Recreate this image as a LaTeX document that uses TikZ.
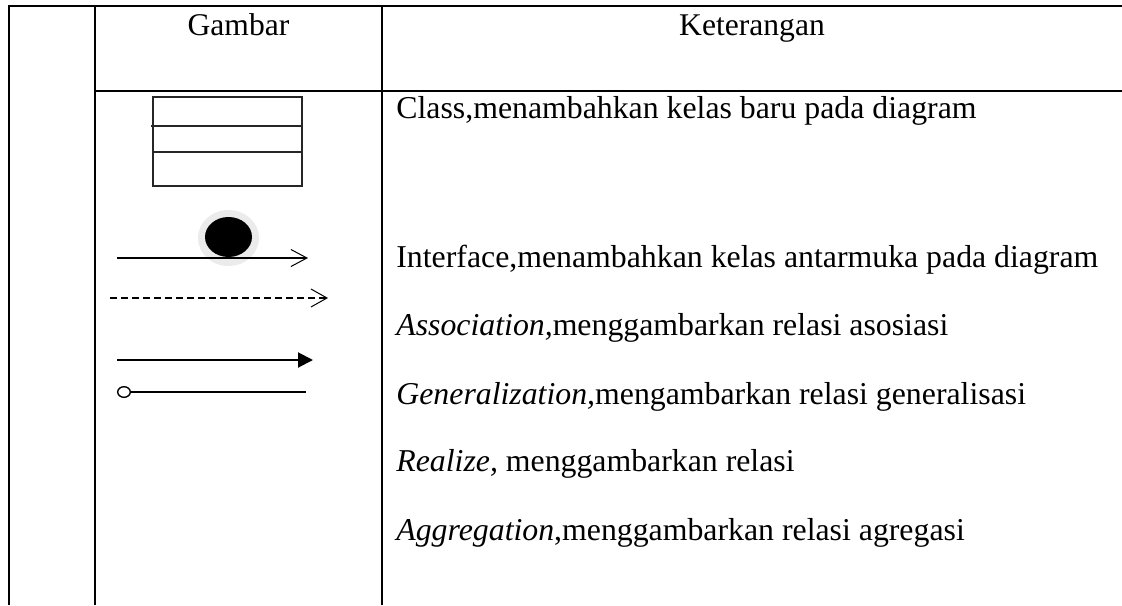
\documentclass[tikz,border=0pt]{standalone}
\usepackage{fontspec}
\setmainfont{Liberation Serif}
\usetikzlibrary{arrows.meta}
\tikzstyle{head} = [inner sep=0pt, anchor=base, font=\fontsize{15.8}{19}\selectfont]
\tikzstyle{ket} = [inner sep=0pt, anchor=base west, font=\fontsize{15.9}{19}\selectfont]
\tikzstyle{grid} = [line width=1.35pt]
\tikzstyle{classLine} = [line width=0.9pt, draw=black!85]
\tikzstyle{openArrow} = [line width=0.7pt, -{Straight Barb[length=8pt, width=8.5pt, line width=0.5pt]}]
\tikzstyle{dashArrow} = [line width=0.6pt, dash pattern=on 3.5pt off 2pt, -{Straight Barb[length=8pt, width=9pt, line width=0.5pt]}]
\tikzstyle{solidArrow} = [line width=1pt, -{Triangle[length=7.5pt, width=7.5pt]}]
\tikzstyle{circLine} = [line width=0.7pt, {Circle[open, length=7pt, width=6pt, line width=0.7pt]}-]

\begin{document}
\begin{tikzpicture}[x=0.5pt, y=-0.5pt]
\useasboundingbox (0,0) rectangle (1122,605);

% Table lines
\draw [grid] (1122,6) -- (9,6) -- (9,605);
\draw [grid] (95,6) -- (95,605);
\draw [grid] (382,6) -- (382,605);
\draw [grid] (95,91) -- (1122,91);

% Column heads
\node (headGambar) [head] at (238.5,35) {Gambar};
\node (headKet) [head] at (752,35) {Keterangan};

% Column 1 - Gambar
\draw [classLine] (153,97) rectangle (302,186);
\draw [classLine] (151,126) -- (302,126);
\draw [classLine] (153,152) -- (302,152);

\fill [black!8] (228.5,238) ellipse [x radius=30.5, y radius=28];
\fill [black] (228.5,237) ellipse [x radius=23.5, y radius=20];

\coordinate (ifaceA) at (117,258);
\coordinate (ifaceB) at (308,258);
\coordinate (dashA) at (110,298);
\coordinate (dashB) at (328,298);
\coordinate (assocA) at (117,360);
\coordinate (assocB) at (313,360);
\coordinate (circA) at (117,392);
\coordinate (circB) at (306,392);

\draw [openArrow] (ifaceA) -- (ifaceB);
\draw [dashArrow] (dashA) -- (dashB);
\draw [solidArrow] (assocA) -- (assocB);
\draw [circLine] (circA) -- (circB);

% Column 2 - Keterangan
\node (ketClass) [ket] at (396,118) {Class,menambahkan kelas baru pada diagram};
\node (ketIface) [ket] at (396,267) {Interface,menambahkan kelas antarmuka pada diagram};
\node (ketAssoc) [ket] at (396,335) {\textit{Association,}menggambarkan relasi asosiasi};
\node (ketGen) [ket] at (396,404) {\textit{Generalization,}mengambarkan relasi generalisasi};
\node (ketReal) [ket] at (396,471) {\textit{Realize,} menggambarkan relasi};
\node (ketAggr) [ket] at (396,540) {\textit{Aggregation},menggambarkan relasi agregasi};

\end{tikzpicture}
\end{document}
